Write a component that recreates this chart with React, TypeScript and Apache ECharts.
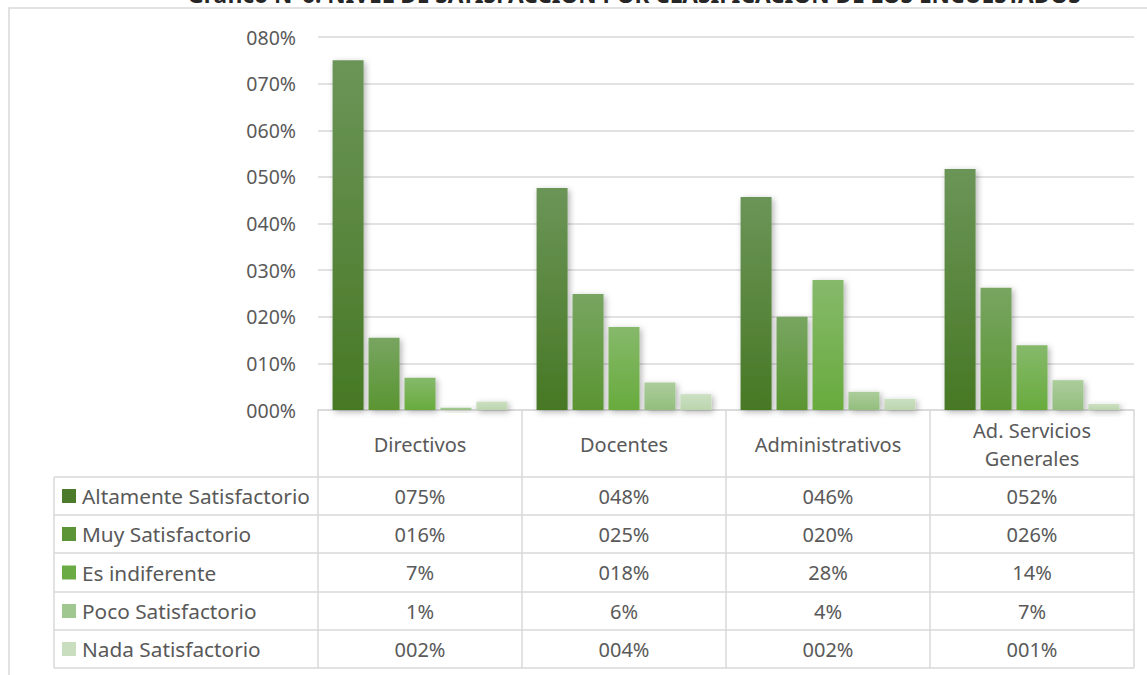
import React, { useEffect, useRef } from "react";
import * as echarts from "echarts";

const titleText = "Gráfico N°6: NIVEL DE SATISFACCIÓN POR CLASIFICACIÓN DE LOS ENCUESTADOS";
const categories = ["Directivos", "Docentes", "Administrativos", "Ad. Servicios\nGenerales"];
const seriesNames = [
  "Altamente Satisfactorio",
  "Muy Satisfactorio",
  "Es indiferente",
  "Poco Satisfactorio",
  "Nada Satisfactorio",
];
// bar heights (percent) as drawn
const altamente = [75.0, 47.6, 45.7, 51.7];
const muy = [15.5, 24.9, 20.0, 26.2];
const indiferente = [6.9, 17.8, 27.9, 13.9];
const poco = [0.5, 5.9, 3.9, 6.4];
const nada = [1.8, 3.4, 2.4, 1.3];
// table labels as printed
const altamenteLabels = ["075%", "048%", "046%", "052%"];
const muyLabels = ["016%", "025%", "020%", "026%"];
const indiferenteLabels = ["7%", "018%", "28%", "14%"];
const pocoLabels = ["1%", "6%", "4%", "7%"];
const nadaLabels = ["002%", "004%", "002%", "001%"];
const yTickLabels = ["000%", "010%", "020%", "030%", "040%", "050%", "060%", "070%", "080%"];

const topColors = ["#6b9558", "#78a561", "#86b96b", "#abcd9b", "#cbe0c2"];
const bottomColors = ["#477824", "#5a9532", "#68ab3d", "#93be7e", "#bbd5ae"];
const legendColors = ["#4b7b2b", "#5c9438", "#6aab45", "#a1c791", "#c9debf"];

const FONT = "'Noto Sans', sans-serif";
const TXT = "#595959";
const LINE = "#d9d9d9";
const FS = 20;

export default function App() {
  const ref = useRef<HTMLDivElement>(null);
  useEffect(() => {
    document.body.style.margin = "0";
    const chart = echarts.init(ref.current!, null, { renderer: "svg" });
    const values = [altamente, muy, indiferente, poco, nada];
    const labels = [altamenteLabels, muyLabels, indiferenteLabels, pocoLabels, nadaLabels];

    const colX = [318, 522, 726, 930, 1134];
    const rowY = [477, 515, 553, 592, 630, 668];
    const legendLeft = 54;
    const g: any[] = [];
    // title (clipped at top, as in the reference)
    g.push({
      type: "text",
      x: 634,
      y: 6,
      style: {
        text: titleText,
        font: `bold 22.6px ${FONT}`,
        fill: "#262626",
        align: "center",
        verticalAlign: "bottom",
      },
    });
    // outer border
    g.push({
      type: "rect",
      shape: { x: 9, y: 8, width: 1200, height: 700 },
      style: { fill: "none", stroke: LINE, lineWidth: 1.5 },
    });
    // vertical lines
    colX.forEach((x) => {
      g.push({ type: "line", shape: { x1: x, y1: 410, x2: x, y2: rowY[5] }, style: { stroke: LINE, lineWidth: 1.5 } });
    });
    g.push({ type: "line", shape: { x1: legendLeft, y1: rowY[0], x2: legendLeft, y2: rowY[5] }, style: { stroke: LINE, lineWidth: 1.5 } });
    rowY.forEach((y) => {
      g.push({ type: "line", shape: { x1: legendLeft, y1: y, x2: colX[4], y2: y }, style: { stroke: LINE, lineWidth: 1.5 } });
    });
    // header
    categories.forEach((c, i) => {
      g.push({
        type: "text",
        x: (colX[i] + colX[i + 1]) / 2,
        y: 444,
        style: { text: c, font: `${FS}px ${FONT}`, fill: TXT, align: "center", verticalAlign: "middle", lineHeight: 28 },
      });
    });
    // rows
    seriesNames.forEach((name, r) => {
      const cy = (rowY[r] + rowY[r + 1]) / 2;
      g.push({ type: "rect", shape: { x: 62, y: cy - 7, width: 14, height: 14 }, style: { fill: legendColors[r] } });
      g.push({
        type: "text",
        x: 82,
        y: cy,
        style: { text: name, font: `20.8px ${FONT}`, fill: TXT, align: "left", verticalAlign: "middle" },
      });
      labels[r].forEach((t, i) => {
        g.push({
          type: "text",
          x: (colX[i] + colX[i + 1]) / 2,
          y: cy,
          style: { text: t, font: `${FS}px ${FONT}`, fill: TXT, align: "center", verticalAlign: "middle" },
        });
      });
    });

    chart.setOption({
      animation: false,
      grid: { left: 318, right: 13, top: 37, bottom: 265, containLabel: false },
      xAxis: {
        type: "category",
        data: categories,
        axisLine: { lineStyle: { color: LINE, width: 1.5 } },
        axisTick: { show: false },
        axisLabel: { show: false },
      },
      yAxis: {
        type: "value",
        min: 0,
        max: 80,
        interval: 10,
        axisLine: { show: false },
        axisTick: { show: false },
        splitLine: { lineStyle: { color: LINE, width: 1.5 } },
        axisLabel: {
          formatter: (_v: number, idx: number) => yTickLabels[idx],
          color: TXT,
          fontSize: 19.5,
          fontFamily: FONT,
          margin: 22,
        },
      },
      series: seriesNames.map((name, s) => ({
        name,
        type: "bar",
        data: values[s],
        barWidth: 31,
        barGap: "16%",
        itemStyle: {
          color: new echarts.graphic.LinearGradient(0, 0, 0, 1, [
            { offset: 0, color: topColors[s] },
            { offset: 1, color: bottomColors[s] },
          ]),
          shadowBlur: 6,
          shadowColor: "rgba(0,0,0,0.3)",
          shadowOffsetX: 2,
          shadowOffsetY: 2,
        },
      })),
      graphic: g,
    });
    return () => chart.dispose();
  }, []);
  return <div ref={ref} style={{ width: 1147, height: 675 }} />;
}
